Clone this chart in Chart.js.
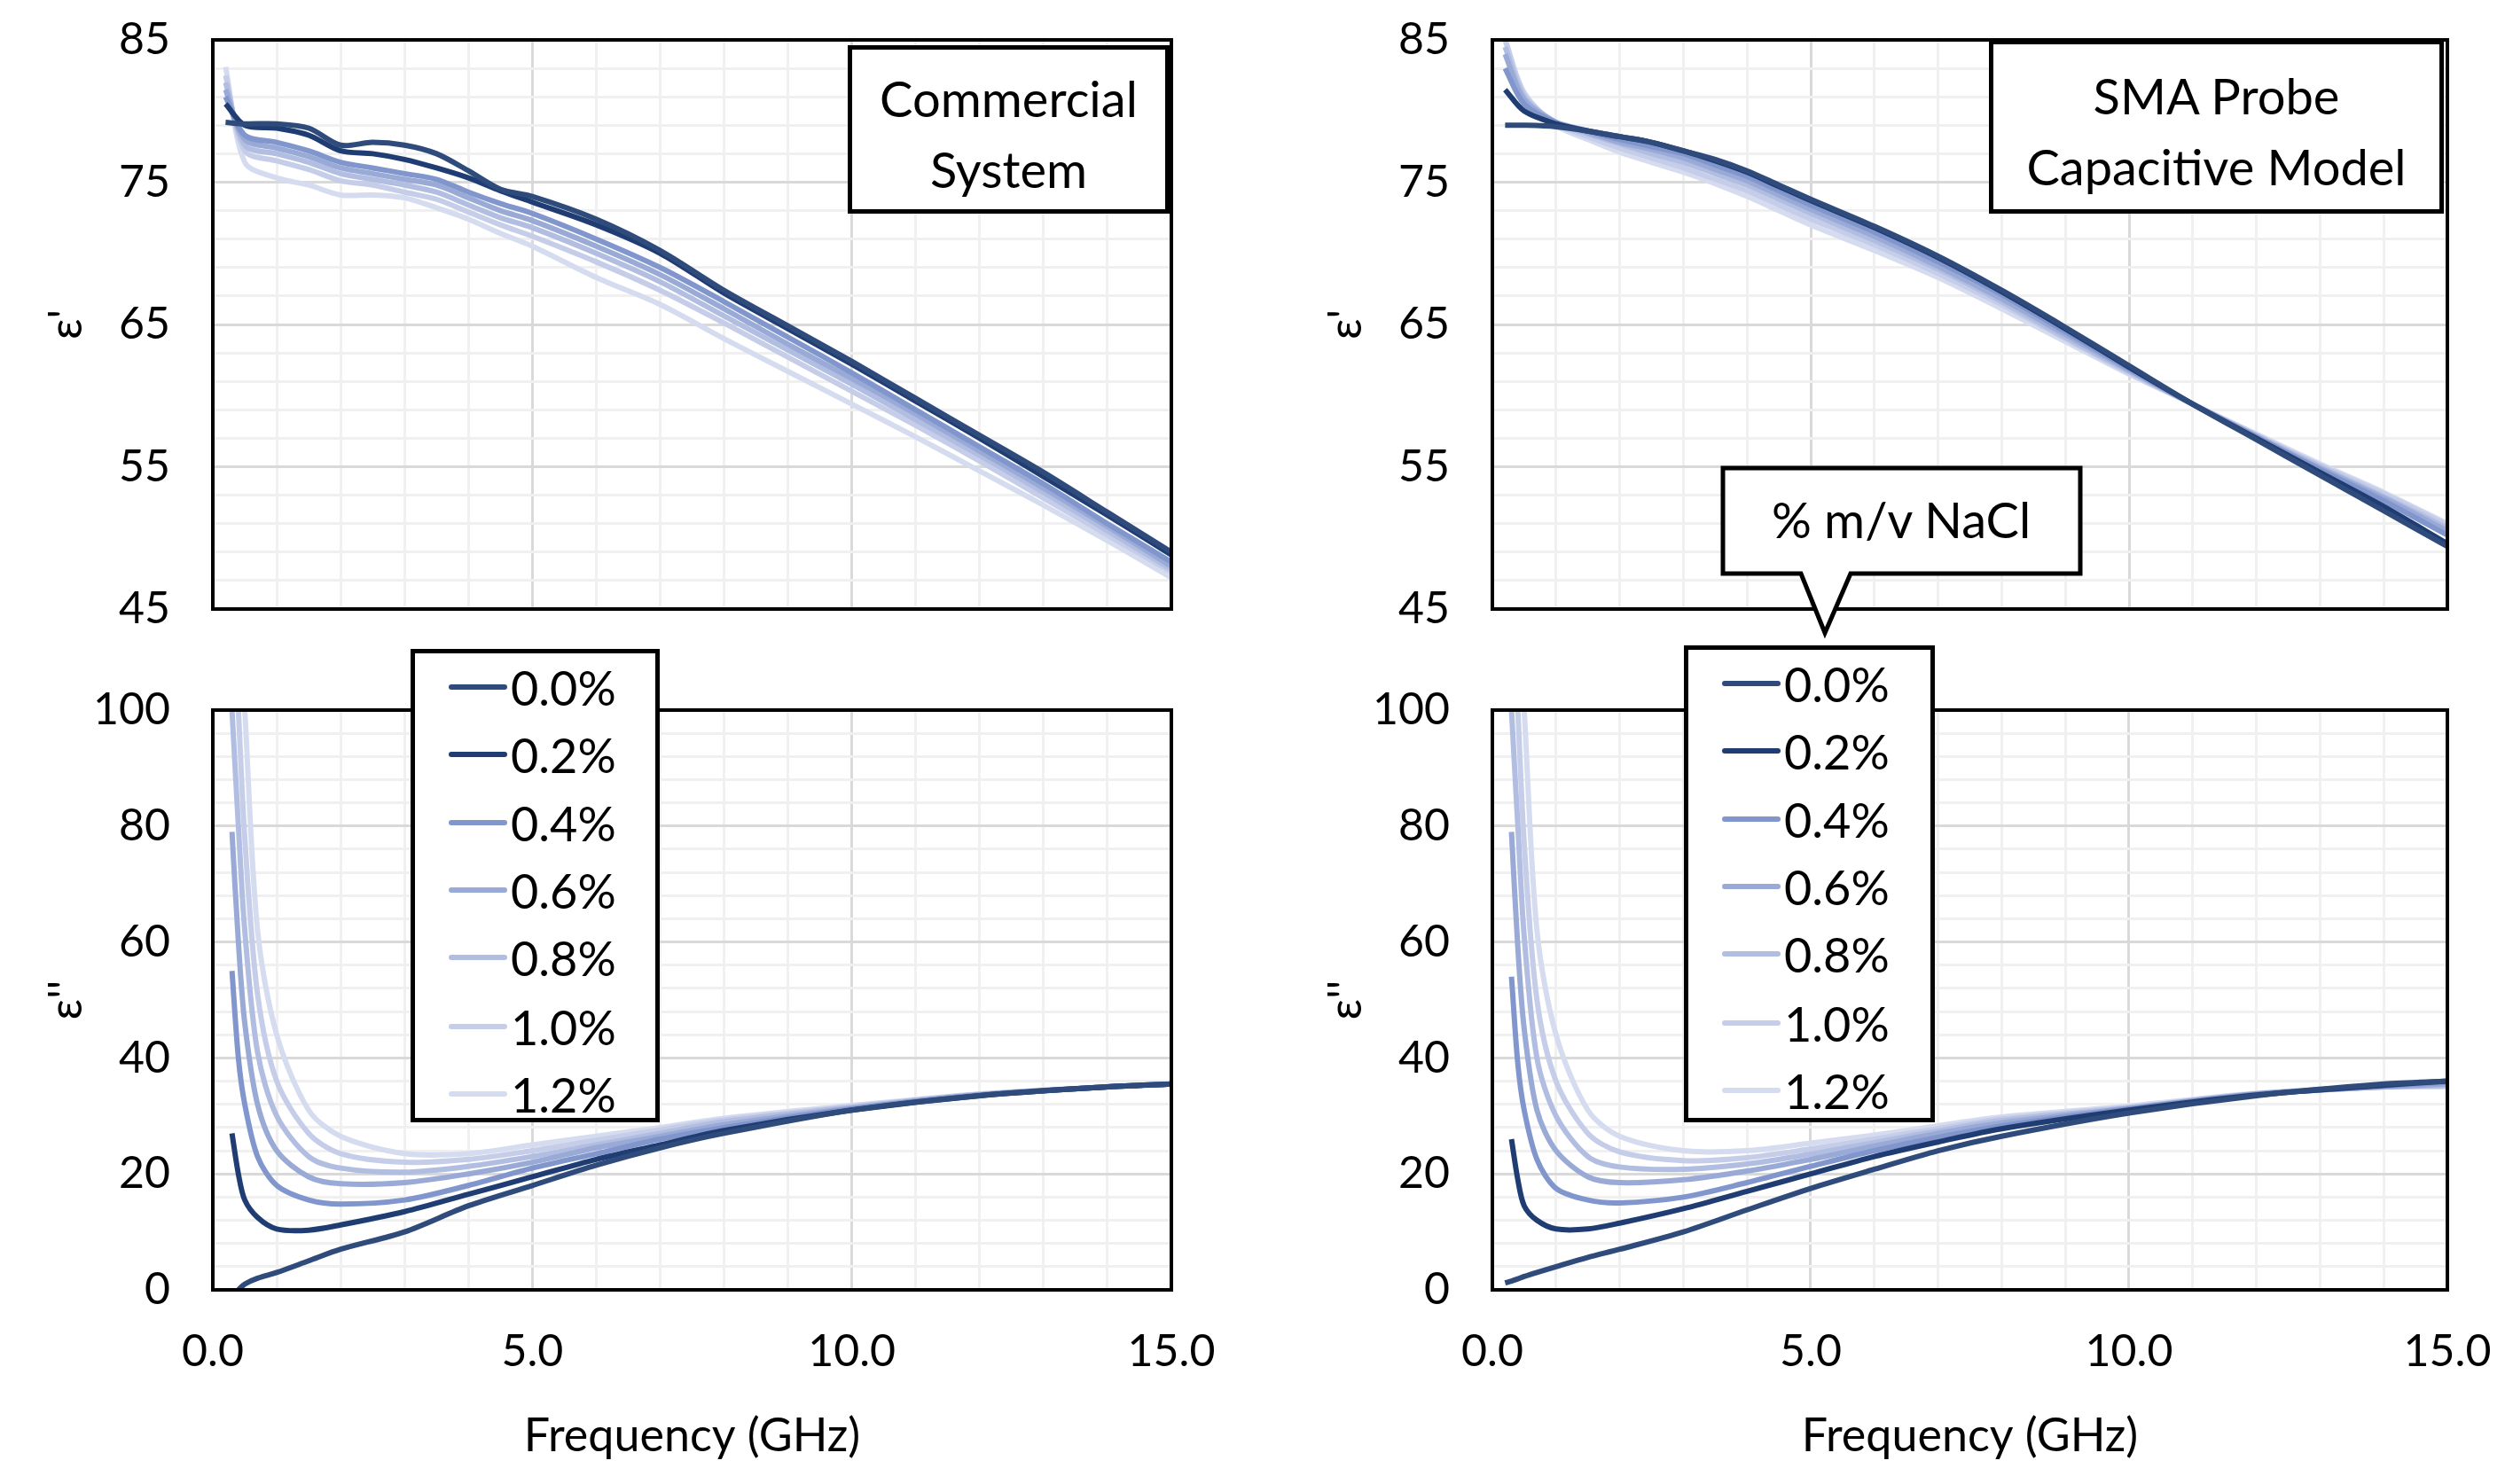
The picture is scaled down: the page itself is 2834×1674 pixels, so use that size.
<!DOCTYPE html>
<html>
<head>
<meta charset="utf-8">
<script src="https://cdn.jsdelivr.net/npm/chart.js@4"></script>
<style>
  body { margin: 0; background: #fff; }
  #page { position: relative; width: 2834px; height: 1674px; overflow: hidden; font-family: Lato, "Open Sans", sans-serif; }
  .panel { position: absolute; }
  .box { position: absolute; background: #fff; border: 5px solid #000; box-sizing: border-box; font-size: 56px; text-align: center; color: #000; }
  .legend { position: absolute; background: #fff; border: 5px solid #000; box-sizing: border-box; font-size: 54px; color: #000; }
  .row { position: absolute; left: 0; height: 60px; display: flex; align-items: center; }
  .row span.l { display: inline-block; width: 66px; height: 6px; margin-left: 38px; margin-right: 4px; border-radius: 3px; }
</style>
</head>
<body>
<div id="page">
  <div class="panel" id="ptl" style="left:40px;top:25px;width:1301px;height:684px"><canvas id="tl"></canvas></div>
  <div class="panel" id="ptr" style="left:1483px;top:25px;width:1297px;height:684px"><canvas id="tr"></canvas></div>
  <div class="panel" id="pbl" style="left:40px;top:781px;width:1301px;height:890px"><canvas id="bl"></canvas></div>
  <div class="panel" id="pbr" style="left:1483px;top:781px;width:1297px;height:890px"><canvas id="br"></canvas></div>

  <div class="box" style="left:956px;top:51px;width:363px;height:190px;padding-top:15px;line-height:80px">Commercial<br>System</div>
  <div class="box" style="left:2243px;top:45px;width:513px;height:196px;padding-top:18px;line-height:80px">SMA Probe<br>Capacitive Model</div>

  <div class="legend" id="legL" style="left:463px;top:732px;width:281px;height:534px"></div>
  <div class="legend" id="legR" style="left:1899px;top:728px;width:283px;height:538px"></div>

  <svg style="position:absolute;left:0;top:0" width="2834" height="1674">
    <polygon points="1943,528 2346,528 2346,647 2087,647 2058,714 2031,647 1943,647" fill="#fff" stroke="#000" stroke-width="5"/>
    <text x="2144" y="607" font-family="Lato, 'Open Sans', sans-serif" font-size="56" text-anchor="middle">% m/v NaCl</text>
  </svg>
</div>
<script>
const labels = ["0.0%", "0.2%", "0.4%", "0.6%", "0.8%", "1.0%", "1.2%"];
const colors = ["#2f4b7c", "#1f3d73", "#8196cc", "#9aaad6", "#b2bde2", "#c5cde9", "#d6dcef"];

const fTop = [0.2,0.5,1,1.5,2,2.5,3,3.5,4,4.5,5,6,7,8,9,10,11,12,13,14,15];
const fBot = [0.2,0.3,0.4,0.5,0.7,1,1.5,2,3,4,5,6,7,8,10,12,14,15];

// epsilon' commercial system
const tl00 = [79.2,79.1,79.1,78.8,77.6,77.8,77.6,77.0,75.8,74.5,74.0,72.4,70.2,67.4,64.9,62.4,59.8,57.2,54.6,51.8,49.0];
const tl02 = [80.5,79.0,78.8,78.3,77.2,77.0,76.6,76.0,75.3,74.4,73.6,72.0,70.0,67.2,64.7,62.2,59.6,57.0,54.3,51.6,48.8];
const tl04 = [81.0,78.3,77.8,77.2,76.4,76.0,75.6,75.2,74.3,73.5,72.8,71.0,69.0,66.6,64.1,61.6,59.0,56.4,53.8,51.0,48.3];
const tl06 = [81.5,78.0,77.4,76.8,76.0,75.6,75.2,74.8,73.9,73.0,72.3,70.5,68.5,66.1,63.6,61.2,58.7,56.1,53.5,50.8,48.0];
const tl08 = [82.0,77.6,77.0,76.4,75.6,75.2,74.8,74.3,73.4,72.5,71.8,70.0,68.0,65.6,63.2,60.8,58.3,55.8,53.2,50.5,47.8];
const tl10 = [82.5,77.2,76.5,75.9,75.1,74.8,74.3,73.8,72.9,72.0,71.2,69.4,67.4,65.1,62.7,60.3,57.9,55.4,52.8,50.2,47.6];
const tl12 = [83.1,76.4,75.3,74.8,74.1,74.1,73.9,73.2,72.4,71.4,70.5,68.3,66.4,64.0,61.7,59.4,57.1,54.7,52.3,49.8,47.2];

// epsilon' SMA probe
const tr00 = [79.0,79.0,78.9,78.6,78.2,77.8,77.2,76.6,75.8,74.8,73.8,71.9,69.8,67.4,64.8,62.1,59.4,56.9,54.4,51.9,49.4];
const tr02 = [81.5,80.0,79.1,78.6,78.2,77.8,77.2,76.5,75.7,74.7,73.7,71.8,69.7,67.3,64.7,62.0,59.4,57.0,54.6,52.2,49.6];
const tr04 = [83.0,80.5,79.2,78.6,78.0,77.5,77.0,76.2,75.4,74.4,73.4,71.5,69.4,67.1,64.5,61.9,59.4,57.1,54.8,52.6,50.2];
const tr06 = [84.0,80.8,79.2,78.5,77.8,77.3,76.7,75.9,75.1,74.1,73.1,71.2,69.1,66.8,64.3,61.8,59.4,57.1,54.9,52.8,50.5];
const tr08 = [84.5,81.0,79.2,78.4,77.7,77.0,76.4,75.6,74.8,73.8,72.8,70.9,68.9,66.6,64.1,61.7,59.4,57.2,55.0,52.9,50.7];
const tr10 = [85.0,81.2,79.1,78.2,77.4,76.7,76.0,75.2,74.4,73.4,72.4,70.6,68.6,66.4,64.0,61.6,59.4,57.2,55.1,53.1,50.9];
const tr12 = [85.0,81.3,79.0,78.0,77.1,76.4,75.7,74.9,74.0,73.0,72.0,70.2,68.3,66.1,63.8,61.5,59.4,57.3,55.2,53.2,51.0];

// epsilon'' commercial system
const bl00 = [null,null,0,1,2,3,5,7,10,14.5,18,21.5,24.5,27,31,33.5,35,35.5];
const bl02 = [null,27,20,15.5,12.5,10.5,10.3,11.2,13.5,16.5,19.5,22.5,25,27.5,31,33.5,35,35.5];
const bl04 = [null,55,40,32,23,18,15.5,14.8,15.5,18,21,23.5,26,28,31.2,33.6,35,35.5];
const bl06 = [null,79,60,46,32,24,19.5,18.3,18.5,20,22,24.5,26.5,28.5,31.3,33.6,35,35.5];
const bl08 = [null,100,80,62,41,30,23,21,20.3,21.3,23,25,27,29,31.5,33.7,35,35.5];
const bl10 = [null,null,100,78,51,36,27,23.5,22,22.5,24,25.8,27.6,29.3,31.6,33.7,35,35.5];
const bl12 = [null,null,null,100,62,44,31,26.5,23.5,23.5,25,26.5,28,29.6,31.8,33.8,35,35.5];

// epsilon'' SMA probe
const br00 = [1.2,1.5,1.9,2.3,3,4,5.6,7,10,13.8,17.5,20.8,24,26.5,30.5,33.5,35.5,36];
const br02 = [null,26,19,14.5,12,10.5,10.5,11.5,14,17,20,23,25.5,27.8,31,33.6,35.3,36];
const br04 = [null,54,39,31,22.5,17.5,15.5,15,16,18.5,21.3,24,26.3,28.3,31.2,33.7,35.2,35.8];
const br06 = [null,79,59,45,31,24,19.5,18.5,19,20.5,22.5,24.8,27,28.8,31.3,33.8,35,35.5];
const br08 = [null,100,80,61,40,30,23,21.2,20.8,21.7,23.4,25.4,27.4,29.2,31.4,33.8,35,35.3];
const br10 = [null,null,100,77,50,36,27,23.8,22.3,22.8,24.3,26,27.8,29.5,31.5,33.8,35,35.2];
const br12 = [null,null,null,100,62,44,31,26.5,24,24,25.3,26.7,28.3,29.8,31.7,33.9,35,35];

const FONT = "Lato, 'Open Sans', sans-serif";

const framePlugin = {
  id: "frame",
  afterDraw(chart) {
    const a = chart.chartArea, c = chart.ctx;
    c.save();
    c.strokeStyle = "#000";
    c.lineWidth = 4;
    c.strokeRect(a.left, a.top, a.right - a.left, a.bottom - a.top);
    c.restore();
  }
};

function makeChart(id, xs, series, yMin, yMax, yStep, yMajor, yTitle, showX) {
  const datasets = series.map((vals, i) => ({
    label: labels[i],
    data: xs.map((x, j) => ({ x: x, y: vals[j] })),
    borderColor: colors[i],
    borderWidth: 6,
    pointRadius: 0,
    tension: 0.3,
    fill: false,
    spanGaps: false
  }));
  return new Chart(document.getElementById(id), {
    type: "line",
    data: { datasets },
    options: {
      responsive: true,
      maintainAspectRatio: false,
      animation: false,
      devicePixelRatio: 1,
      layout: { padding: { top: 20, right: 20, bottom: showX ? 0 : 2 } },
      plugins: { legend: { display: false }, tooltip: { enabled: false } },
      scales: {
        x: {
          type: "linear", min: 0, max: 15,
          afterFit: (s) => { s.height = showX ? 200 : 0; },
          ticks: {
            display: showX, stepSize: 1, autoSkip: false, maxRotation: 0, padding: 40,
            color: "#000", font: { family: FONT, size: 50 },
            callback: (v) => (v % 5 === 0 ? v.toFixed(1) : "")
          },
          grid: {
            drawTicks: false,
            color: (ctx) => (ctx.tick && ctx.tick.value % 5 === 0 ? "#d9d9d9" : "#f0f0f0"),
            lineWidth: 3
          },
          border: { display: false },
          title: { display: showX, text: "Frequency (GHz)", color: "#000", font: { family: FONT, size: 52 }, padding: { top: 10 } }
        },
        y: {
          min: yMin, max: yMax,
          afterFit: (s) => { s.width = 200; },
          ticks: {
            stepSize: yStep, autoSkip: false, padding: 48,
            color: "#000", font: { family: FONT, size: 50 },
            callback: (v) => ((v - yMin) % yMajor === 0 ? v : "")
          },
          grid: {
            drawTicks: false,
            color: (ctx) => (ctx.tick && (ctx.tick.value - yMin) % yMajor === 0 ? "#d9d9d9" : "#f0f0f0"),
            lineWidth: 3
          },
          border: { display: false },
          title: { display: true, text: yTitle, color: "#000", font: { family: FONT, size: 52 }, padding: { bottom: 0 } }
        }
      }
    },
    plugins: [framePlugin]
  });
}

// place each chart so its plot area lands on the target rectangle
function fitTo(chart, panelId, left, top, w, h) {
  const p = document.getElementById(panelId);
  for (let k = 0; k < 3; k++) {
    const a = chart.chartArea;
    const pl = parseFloat(p.style.left), pt = parseFloat(p.style.top);
    const pw = parseFloat(p.style.width), ph = parseFloat(p.style.height);
    p.style.left = (left - a.left) + "px";
    p.style.top = (top - a.top) + "px";
    p.style.width = (pw + w - (a.right - a.left)) + "px";
    p.style.height = (ph + h - (a.bottom - a.top)) + "px";
    chart.resize();
  }
}

const cTL = makeChart("tl", fTop, [tl00, tl02, tl04, tl06, tl08, tl10, tl12], 45, 85, 2, 10, "ε'", false);
const cTR = makeChart("tr", fTop, [tr00, tr02, tr04, tr06, tr08, tr10, tr12], 45, 85, 2, 10, "ε'", false);
const cBL = makeChart("bl", fBot, [bl00, bl02, bl04, bl06, bl08, bl10, bl12], 0, 100, 4, 20, "ε''", true);
const cBR = makeChart("br", fBot, [br00, br02, br04, br06, br08, br10, br12], 0, 100, 4, 20, "ε''", true);

fitTo(cTL, "ptl", 240, 45, 1081, 642);
fitTo(cTR, "ptr", 1683, 45, 1077, 642);
fitTo(cBL, "pbl", 240, 801, 1081, 654);
fitTo(cBR, "pbr", 1683, 801, 1077, 654);

function buildLegend(id, topOffsets) {
  const el = document.getElementById(id);
  labels.forEach((lab, i) => {
    const row = document.createElement("div");
    row.className = "row";
    row.style.top = topOffsets[i] + "px";
    row.innerHTML = '<span class="l" style="background:' + colors[i] + '"></span><span>' + lab + "</span>";
    el.appendChild(row);
  });
}
const legRows = [8, 84, 161, 237, 313, 391, 467];
buildLegend("legL", legRows);
buildLegend("legR", legRows);
</script>
</body>
</html>
